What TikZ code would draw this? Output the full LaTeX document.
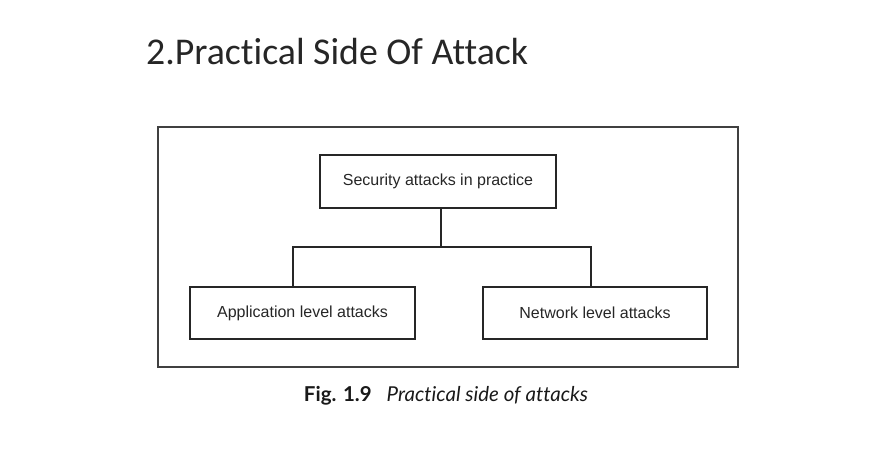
\documentclass[tikz,border=0pt]{standalone}
\usepackage{fontspec}
\setmainfont{Liberation Sans}
\newfontfamily\titlefont[Ligatures=NoCommon]{Carlito}
\newfontfamily\capfont[Ligatures=NoCommon]{Lato}
\begin{document}
\begin{tikzpicture}[x=1pt,y=-1pt,
  box/.style={draw=black!85,line width=1.3pt,inner sep=0pt,text=black!85,font=\fontsize{16}{18}\selectfont},
  wire/.style={draw=black!85,line width=1.3pt}]
\useasboundingbox (0,0) rectangle (874,470);
\node[anchor=base west,font=\titlefont\fontsize{37.8}{42}\selectfont,text=black!85,inner sep=0pt] (title) at (146,65) {2.Practical Side Of Attack};
\node[draw=black!75,line width=1.2pt,minimum width=580pt,minimum height=240pt,inner sep=0pt] (frame) at (448,247) {};
\node[box,minimum width=236pt,minimum height=53pt] (top) at (438,181.5) {Security attacks in practice};
\node[box,minimum width=225pt,minimum height=52pt] (left) at (302.5,313) {Application level attacks};
\node[box,minimum width=224pt,minimum height=52pt] (right) at (595,313) {Network level attacks};
\coordinate (bus) at (441,247);
\coordinate (lx) at (293,247);
\coordinate (rx) at (591,247);
\draw[wire] (top.south -| bus) -- (bus);
\draw[wire] (left.north -| lx) -- (lx) -- (rx) -- (right.north -| rx);
\node[anchor=base,font=\capfont\fontsize{20.5}{23}\selectfont,inner sep=0pt,text=black!90] (cap) at (446,401) {\textbf{Fig. 1.9}\hspace{15pt}\textit{Practical side of attacks}};
\end{tikzpicture}
\end{document}
